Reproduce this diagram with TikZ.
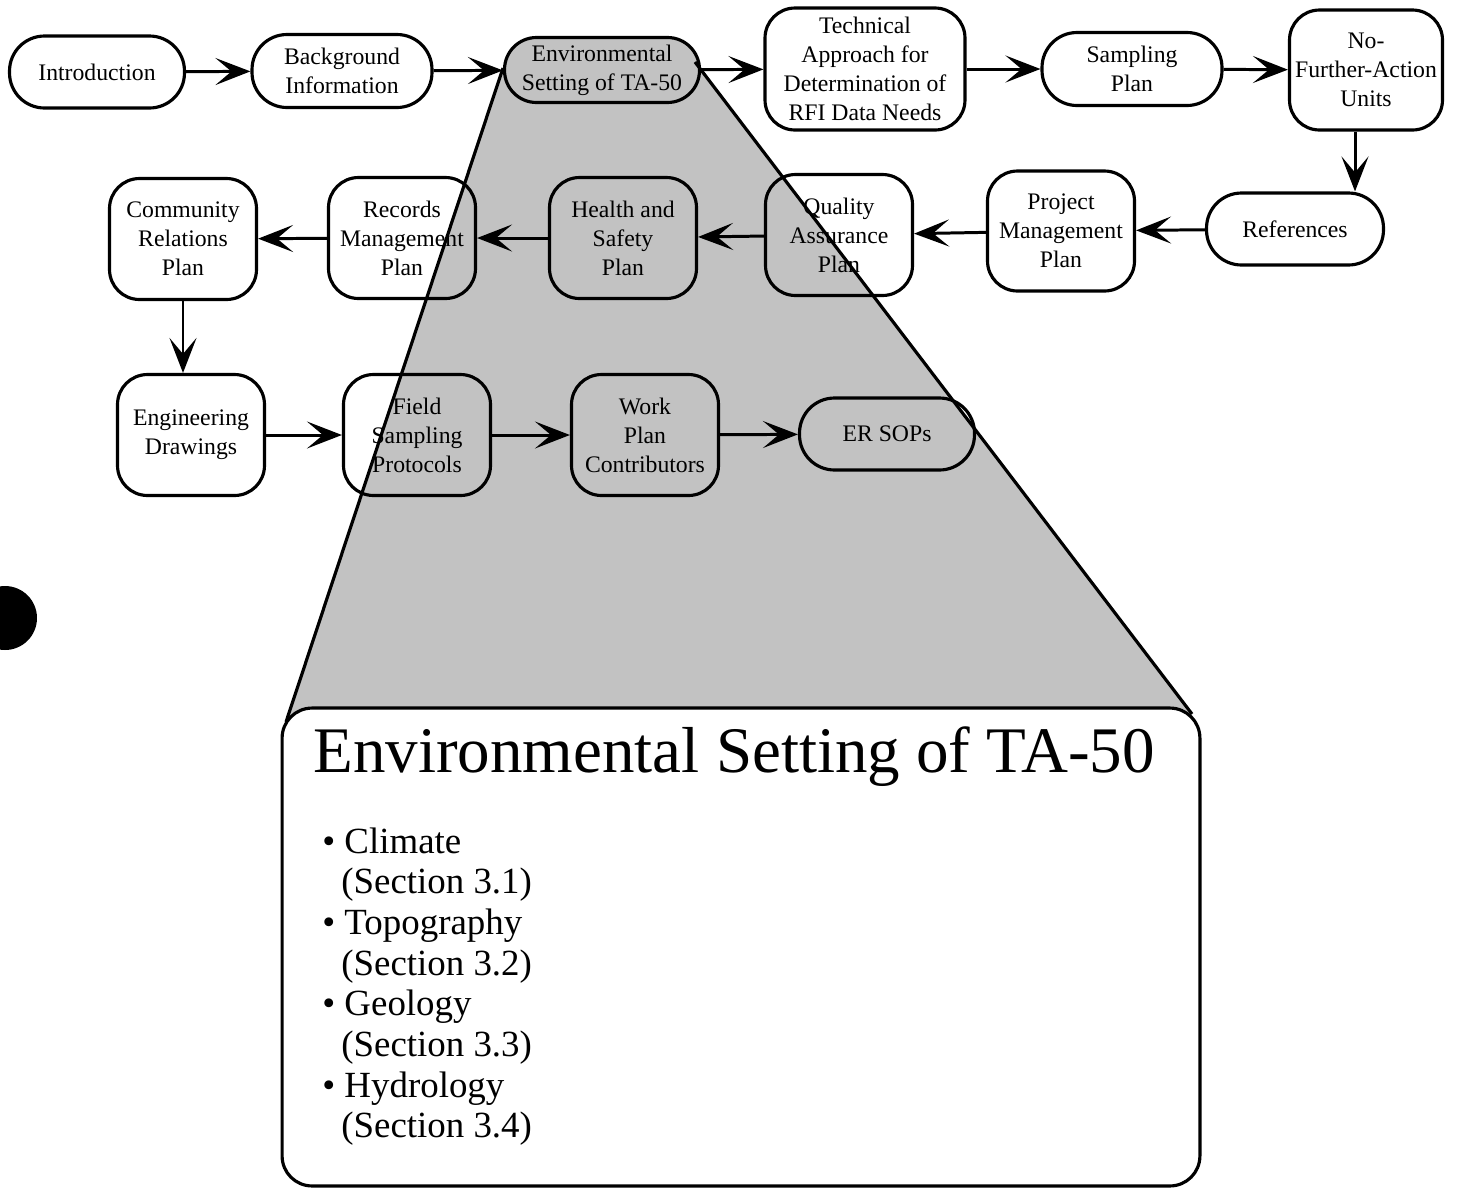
\documentclass[tikz,border=0pt]{standalone}
\usepackage{fontspec}
\setmainfont{Liberation Serif}
\usetikzlibrary{arrows.meta}

\begin{document}
\begin{tikzpicture}[x=0.02cm, y=-0.02cm,
    pill/.style={draw, line width=1.8pt, rounded corners=0.7cm, minimum height=1.44cm,
      minimum width=3.5cm, align=center, inner sep=0pt, font=\fontsize{13.5}{16.5}\selectfont},
    rbox/.style={draw, line width=1.8pt, rounded corners=0.6cm, minimum height=2.42cm,
      minimum width=2.94cm, align=center, inner sep=0pt, font=\fontsize{13.5}{16.5}\selectfont},
    arr/.style={line width=1.7pt, -{Stealth[length=7mm, width=5.4mm, inset=3.2mm]}},
    listtext/.style={anchor=base west, inner sep=0pt, font=\fontsize{21}{23}\selectfont}]
  \useasboundingbox (0,0) rectangle (1458,1188);

  % Zoom-out shading
  \coordinate (shadeL) at (503,68);
  \coordinate (shadeR) at (695,62);
  \coordinate (boxL) at (286,722);
  \coordinate (boxR) at (1192,714);
  \fill[black!24] (shadeL) -- (shadeR) -- (boxR) -- (1200,780) -- (282,780) -- (boxL) -- cycle;

  % Detail box
  \node[draw, fill=white, line width=1.8pt, rounded corners=0.6cm, minimum width=18.36cm,
    minimum height=9.56cm, inner sep=0pt] (detail) at (741,947) {};
  \node[anchor=base west, inner sep=0pt, font=\fontsize{37}{40}\selectfont] (title) at (313,772)
    {Environmental Setting of TA-50};
  \foreach \t/\s [count=\k] in {Climate/3.1, Topography/3.2, Geology/3.3, Hydrology/3.4} {
    \node[listtext] (item\k) at (322, {853+(\k-1)*81.4}) {\textbullet\ \t};
    \node[listtext] (sec\k) at (341, {893.7+(\k-1)*81.4}) {(Section \s)};
  }

  % First row
  \node[pill] (intro) at (97,72) {Introduction};
  \node[pill, minimum width=3.6cm, minimum height=1.46cm] (backgr) at (342,71) {Background\\Information};
  \node[pill, fill=black!24, minimum width=3.9cm, minimum height=1.3cm, rounded corners=0.64cm] (envset) at (602,70)
    {Environmental\\Setting of TA-50};
  \node[rbox, minimum width=4cm, minimum height=2.44cm] (techapp) at (865,69)
    {Technical\\Approach for\\Determination of\\RFI Data Needs};
  \node[pill, minimum width=3.6cm, minimum height=1.46cm] (sampling) at (1132,69) {Sampling\\Plan};
  \node[rbox, minimum width=3.06cm, minimum height=2.4cm] (nfa) at (1366,70) {No-\\Further-Action\\Units};

  % Second row
  \node[pill, minimum width=3.54cm] (refs) at (1295,229) {References};
  \node[rbox, minimum height=2.4cm] (projmgmt) at (1061,231) {Project\\Management\\Plan};
  \node[rbox] (qa) at (839,235) {Quality\\Assurance\\Plan};
  \node[rbox] (hs) at (623,238) {Health and\\Safety\\Plan};
  \node[rbox] (records) at (402,238) {Records\\Management\\Plan};
  \node[rbox] (community) at (183,239) {Community\\Relations\\Plan};

  % Third row
  \node[rbox] (engdraw) at (191,435) {Engineering\\Drawings};
  \node[rbox] (fieldsamp) at (417,435) {Field\\Sampling\\Protocols};
  \node[rbox] (contrib) at (645,435) {Work\\Plan\\Contributors};
  \node[pill] (ersops) at (887,434) {ER SOPs};

  % Connections
  \foreach \a/\b in {intro/backgr, backgr/envset, envset/techapp, techapp/sampling, sampling/nfa,
      refs/projmgmt, projmgmt/qa, qa/hs, hs/records, records/community,
      engdraw/fieldsamp, fieldsamp/contrib, contrib/ersops} {
    \draw[arr] (\a) -- (\b);
  }
  \draw[arr] ([xshift=-0.22cm]nfa.south) -- ([xshift=-0.22cm]nfa.south |- refs.north);
  \draw[arr] (community.south) -- (community.south |- engdraw.north);

  % Shading edges
  \draw[line width=1.8pt] (shadeL) -- (boxL);
  \draw[line width=1.8pt] (shadeR) -- (boxR);

  % Punch hole
  \fill (5,618) circle (0.64cm);
\end{tikzpicture}
\end{document}
